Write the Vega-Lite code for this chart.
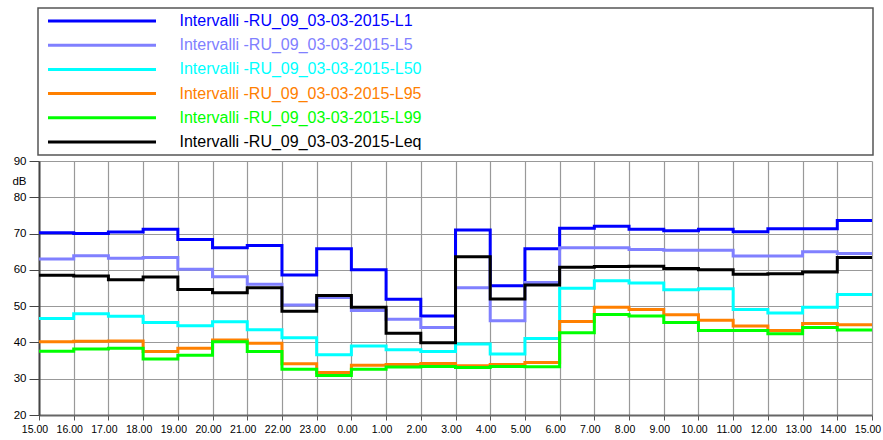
{
  "$schema": "https://vega.github.io/schema/vega-lite/v6.json",
  "width": 833,
  "height": 254,
  "autosize": {"type": "none"},
  "padding": {"left": 39, "top": 161, "right": 11, "bottom": 25},
  "background": "white",
  "config": {"view": {"stroke": null}, "font": "Liberation Sans"},
  "data": {
    "values": [
      {"t": 0, "L1": 70.2, "L5": 63.0, "L50": 46.6, "L95": 40.2, "L99": 37.6, "Leq": 58.5},
      {"t": 1, "L1": 70.0, "L5": 63.9, "L50": 47.9, "L95": 40.3, "L99": 38.2, "Leq": 58.3},
      {"t": 2, "L1": 70.4, "L5": 63.2, "L50": 47.2, "L95": 40.4, "L99": 38.4, "Leq": 57.3},
      {"t": 3, "L1": 71.2, "L5": 63.4, "L50": 45.5, "L95": 37.5, "L99": 35.4, "Leq": 58.0},
      {"t": 4, "L1": 68.4, "L5": 60.2, "L50": 44.6, "L95": 38.4, "L99": 36.5, "Leq": 54.6},
      {"t": 5, "L1": 66.1, "L5": 58.1, "L50": 45.7, "L95": 40.7, "L99": 40.2, "Leq": 53.7},
      {"t": 6, "L1": 66.7, "L5": 56.0, "L50": 43.5, "L95": 39.8, "L99": 37.5, "Leq": 55.1},
      {"t": 7, "L1": 58.6, "L5": 50.3, "L50": 41.3, "L95": 34.1, "L99": 32.6, "Leq": 48.6},
      {"t": 8, "L1": 65.8, "L5": 52.4, "L50": 36.6, "L95": 31.7, "L99": 30.9, "Leq": 52.9},
      {"t": 9, "L1": 60.0, "L5": 48.8, "L50": 39.0, "L95": 33.7, "L99": 32.6, "Leq": 49.7},
      {"t": 10, "L1": 51.9, "L5": 46.4, "L50": 38.0, "L95": 33.9, "L99": 33.2, "Leq": 42.5},
      {"t": 11, "L1": 47.3, "L5": 44.1, "L50": 37.5, "L95": 34.2, "L99": 33.4, "Leq": 39.9},
      {"t": 12, "L1": 71.0, "L5": 55.1, "L50": 39.6, "L95": 33.6, "L99": 33.1, "Leq": 63.6},
      {"t": 13, "L1": 55.6, "L5": 46.0, "L50": 36.8, "L95": 33.9, "L99": 33.4, "Leq": 52.0},
      {"t": 14, "L1": 65.8, "L5": 56.5, "L50": 41.1, "L95": 34.5, "L99": 33.3, "Leq": 55.8},
      {"t": 15, "L1": 71.5, "L5": 66.1, "L50": 54.9, "L95": 45.8, "L99": 42.7, "Leq": 60.7},
      {"t": 16, "L1": 72.0, "L5": 66.1, "L50": 57.0, "L95": 49.7, "L99": 47.7, "Leq": 60.9},
      {"t": 17, "L1": 71.2, "L5": 65.6, "L50": 56.4, "L95": 49.1, "L99": 47.3, "Leq": 61.0},
      {"t": 18, "L1": 70.8, "L5": 65.4, "L50": 54.5, "L95": 47.6, "L99": 45.5, "Leq": 60.4},
      {"t": 19, "L1": 71.2, "L5": 65.4, "L50": 54.8, "L95": 46.1, "L99": 43.3, "Leq": 60.0},
      {"t": 20, "L1": 70.5, "L5": 63.8, "L50": 49.1, "L95": 44.5, "L99": 43.3, "Leq": 58.8},
      {"t": 21, "L1": 71.3, "L5": 63.8, "L50": 48.1, "L95": 43.3, "L99": 42.4, "Leq": 58.9},
      {"t": 22, "L1": 71.3, "L5": 65.0, "L50": 49.7, "L95": 45.2, "L99": 44.1, "Leq": 59.4},
      {"t": 23, "L1": 73.6, "L5": 64.5, "L50": 53.2, "L95": 44.9, "L99": 43.4, "Leq": 63.4},
      {"t": 24, "L1": 73.6, "L5": 64.5, "L50": 53.2, "L95": 44.9, "L99": 43.4, "Leq": 63.4}
    ]
  },
  "transform": [{"fold": ["L1", "L5", "L50", "L95", "L99", "Leq"], "as": ["series", "dB"]}],
  "mark": {"type": "line", "interpolate": "step-after", "strokeWidth": 3},
  "encoding": {
    "x": {
      "field": "t",
      "type": "quantitative",
      "scale": {"domain": [0, 24], "nice": false, "zero": false},
      "axis": {
        "title": null,
        "values": [0, 1, 2, 3, 4, 5, 6, 7, 8, 9, 10, 11, 12, 13, 14, 15, 16, 17, 18, 19, 20, 21, 22, 23, 24],
        "labelExpr": "format((datum.value + 15) % 24, 'd') + '.00'",
        "grid": true,
        "gridColor": "#999999",
        "gridWidth": 1.2,
        "domainColor": "#666666",
        "domainWidth": 2,
        "tickColor": "#555555",
        "tickSize": 5,
        "labelPadding": 4,
        "labelOffset": -4.5,
        "labelFont": "Liberation Sans",
        "labelFontSize": 10.5,
        "labelColor": "#000000",
        "labelOverlap": false,
        "labelFlush": false,
        "labelBound": false
      }
    },
    "y": {
      "field": "dB",
      "type": "quantitative",
      "scale": {"domain": [20, 90], "nice": false, "zero": false},
      "axis": {
        "values": [20, 30, 40, 50, 60, 70, 80, 90],
        "title": "dB",
        "titleAngle": 0,
        "titleX": -20,
        "titleY": 20,
        "titleAlign": "center",
        "titleBaseline": "middle",
        "titleFont": "Liberation Sans",
        "titleFontSize": 11.5,
        "titleFontWeight": "normal",
        "titleColor": "#000000",
        "grid": true,
        "gridColor": "#999999",
        "gridWidth": 1.2,
        "domainColor": "#444444",
        "domainWidth": 2,
        "tickColor": "#444444",
        "tickSize": 10,
        "labelPadding": 3,
        "labelFont": "Liberation Sans",
        "labelFontSize": 11.5,
        "labelColor": "#000000",
        "labelOverlap": false
      }
    },
    "color": {
      "field": "series",
      "type": "nominal",
      "scale": {
        "domain": ["L1", "L5", "L50", "L95", "L99", "Leq"],
        "range": ["#0000ff", "#8080ff", "#00ffff", "#ff8000", "#00ff00", "#000000"]
      },
      "legend": {
        "orient": "none",
        "legendX": -1,
        "legendY": -153,
        "title": null,
        "direction": "vertical",
        "symbolType": "stroke",
        "symbolSize": 11664,
        "symbolStrokeWidth": 3,
        "clipHeight": 16,
        "rowPadding": 8.2,
        "padding": 5,
        "strokeColor": "#555555",
        "fillColor": "white",
        "labelFont": "Liberation Sans",
        "labelFontSize": 16,
        "labelOffset": 22,
        "symbolOffset": 3.5,
        "labelLimit": 0,
        "labelExpr": "'Intervalli -RU_09_03-03-2015-' + datum.label",
        "encode": {
          "labels": {"update": {"fill": {"scale": "color", "field": "value"}}},
          "entries": {"update": {"width": {"value": 825}}},
          "legend": {"update": {"strokeWidth": {"value": 1.5}}}
        }
      }
    }
  }
}
